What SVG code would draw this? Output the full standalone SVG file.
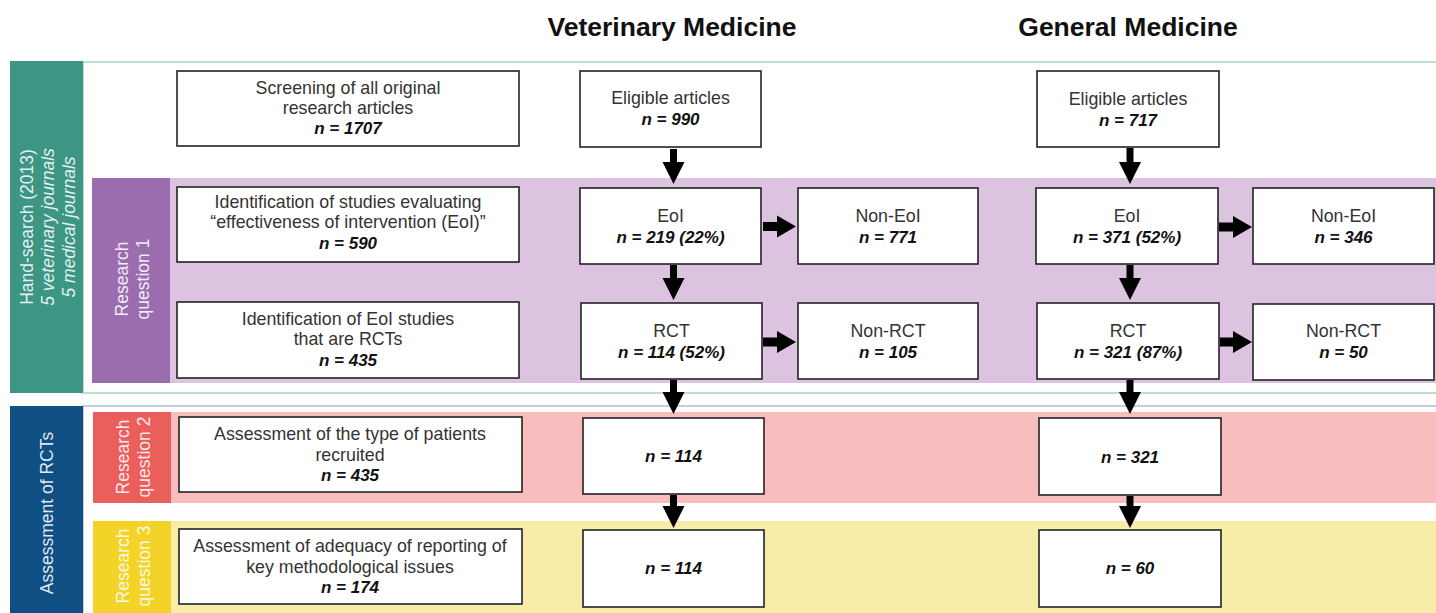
<svg xmlns="http://www.w3.org/2000/svg" width="1436" height="613" viewBox="0 0 1436 613">
<style>
.box{fill:#fff;stroke:#222;stroke-width:1.6}
.t{font-family:"Liberation Sans",Arial,sans-serif;font-size:17.8px;fill:#333;text-anchor:middle}
.n{font-family:"Liberation Sans",Arial,sans-serif;font-size:17px;font-weight:bold;font-style:italic;fill:#111;text-anchor:middle}
.title{font-family:"Liberation Sans",Arial,sans-serif;font-size:26.5px;font-weight:bold;fill:#111;text-anchor:middle}
.side{font-family:"Liberation Sans",Arial,sans-serif;font-size:17.5px;fill:#fff;fill-opacity:0.88;text-anchor:middle}
.arr{fill:#000}
</style>
<rect width="1436" height="613" fill="#fff"/>
<g id="titles">
<text class="title" x="672" y="36">Veterinary Medicine</text>
<text class="title" x="1128" y="36">General Medicine</text>
</g>
<g id="band-handsearch">
<rect x="83" y="62" width="1360" height="331" fill="none" stroke="#b9e2c7" stroke-width="2"/>
<rect x="10" y="61" width="73" height="332" fill="#3d9684"/>
<g transform="translate(0,227) rotate(-90)">
<text class="side" x="0" y="33">Hand-search (2013)</text>
<text class="side" x="0" y="54" font-style="italic">5 veterinary journals</text>
<text class="side" x="0" y="75" font-style="italic">5 medical journals</text>
</g>
</g>
<g id="band-rq1">
<rect x="170" y="178" width="1266" height="205" fill="#dcc3df"/>
<rect x="92" y="178" width="78" height="205" fill="#9b6daf"/>
<g transform="translate(0,279) rotate(-90)">
<text class="side" x="0" y="128">Research</text>
<text class="side" x="0" y="149">question 1</text>
</g>
</g>
<g id="band-assessment">
<rect x="83" y="406" width="1360" height="220" fill="none" stroke="#c3cfe0" stroke-width="2"/>
<rect x="10" y="406" width="73" height="207" fill="#0f4f84"/>
<g transform="translate(0,513) rotate(-90)">
<text class="side" x="0" y="53">Assessment of RCTs</text>
</g>
</g>
<g id="band-rq2">
<rect x="171" y="412" width="1265" height="91" fill="#f8bebd"/>
<rect x="93" y="412" width="78" height="91" fill="#ea5e5b"/>
<g transform="translate(0,457) rotate(-90)">
<text class="side" x="0" y="129">Research</text>
<text class="side" x="0" y="150">question 2</text>
</g>
</g>
<g id="band-rq3">
<rect x="171" y="521" width="1265" height="92" fill="#f8eda8"/>
<rect x="93" y="521" width="78" height="92" fill="#f3d327"/>
<g transform="translate(0,566) rotate(-90)">
<text class="side" x="0" y="129">Research</text>
<text class="side" x="0" y="150">question 3</text>
</g>
</g>
<g id="connectors">
<path class="arr" d="M670,149H677V162H684.5L673.5,184L662.5,162H670Z"/>
<path class="arr" d="M670,265H677V278H684.5L673.5,300L662.5,278H670Z"/>
<path class="arr" d="M670,380H677V392H684.5L673.5,414L662.5,392H670Z"/>
<path class="arr" d="M670,495H677V506H684.5L673.5,528L662.5,506H670Z"/>
<path class="arr" d="M1126.5,148H1133.5V162H1141L1130,184L1119,162H1126.5Z"/>
<path class="arr" d="M1126.5,265H1133.5V278H1141L1130,300L1119,278H1126.5Z"/>
<path class="arr" d="M1126.5,380H1133.5V392H1141L1130,414L1119,392H1126.5Z"/>
<path class="arr" d="M1126.5,496H1133.5V506H1141L1130,528L1119,506H1126.5Z"/>
<path class="arr" d="M763,222H777V215.5L796,226.5L777,237.5V231H763Z"/>
<path class="arr" d="M763,337.5H777V331L796,342L777,353V346.5H763Z"/>
<path class="arr" d="M1219,222.5H1233V216L1252,227L1233,238V231.5H1219Z"/>
<path class="arr" d="M1220,337.5H1233V331L1252,342L1233,353V346.5H1220Z"/>
</g>
<g id="node-screening">
<rect class="box" x="177" y="71" width="342" height="75"/>
<text class="t" x="348" y="94">Screening of all original</text>
<text class="t" x="348" y="114">research articles</text>
<text class="n" x="348" y="134">n = 1707</text>
</g>
<g id="node-eoi-ident">
<rect class="box" x="177" y="187" width="342" height="75"/>
<text class="t" x="348" y="208">Identification of studies evaluating</text>
<text class="t" x="348" y="228">“effectiveness of intervention (EoI)”</text>
<text class="n" x="348" y="249">n = 590</text>
</g>
<g id="node-rct-ident">
<rect class="box" x="177" y="302" width="342" height="76"/>
<text class="t" x="348" y="325">Identification of EoI studies</text>
<text class="t" x="348" y="345">that are RCTs</text>
<text class="n" x="348" y="366">n = 435</text>
</g>
<g id="node-patients">
<rect class="box" x="179" y="417" width="343" height="75"/>
<text class="t" x="350" y="440">Assessment of the type of patients</text>
<text class="t" x="350" y="461">recruited</text>
<text class="n" x="350" y="481">n = 435</text>
</g>
<g id="node-reporting">
<rect class="box" x="179" y="529" width="343" height="75"/>
<text class="t" x="350" y="552">Assessment of adequacy of reporting of</text>
<text class="t" x="350" y="573">key methodological issues</text>
<text class="n" x="350" y="593">n = 174</text>
</g>
<g id="node-vet-eligible">
<rect class="box" x="580" y="71" width="181" height="76"/>
<text class="t" x="670.5" y="104">Eligible articles</text>
<text class="n" x="670.5" y="125">n = 990</text>
</g>
<g id="node-vet-eoi">
<rect class="box" x="580" y="188" width="181" height="76"/>
<text class="t" x="670.5" y="222">EoI</text>
<text class="n" x="670.5" y="243">n = 219 (22%)</text>
</g>
<g id="node-vet-noneoi">
<rect class="box" x="798" y="188" width="180" height="76"/>
<text class="t" x="888" y="222">Non-EoI</text>
<text class="n" x="888" y="243">n = 771</text>
</g>
<g id="node-vet-rct">
<rect class="box" x="581" y="303" width="181" height="76"/>
<text class="t" x="671.5" y="337">RCT</text>
<text class="n" x="671.5" y="358">n = 114 (52%)</text>
</g>
<g id="node-vet-nonrct">
<rect class="box" x="798" y="303" width="180" height="76"/>
<text class="t" x="888" y="337">Non-RCT</text>
<text class="n" x="888" y="358">n = 105</text>
</g>
<g id="node-vet-rq2">
<rect class="box" x="583" y="418" width="181" height="76"/>
<text class="n" x="673.5" y="462">n = 114</text>
</g>
<g id="node-vet-rq3">
<rect class="box" x="583" y="530" width="181" height="77"/>
<text class="n" x="673.5" y="574">n = 114</text>
</g>
<g id="node-gen-eligible">
<rect class="box" x="1037" y="71" width="182" height="76"/>
<text class="t" x="1128" y="105">Eligible articles</text>
<text class="n" x="1128" y="126">n = 717</text>
</g>
<g id="node-gen-eoi">
<rect class="box" x="1036" y="188" width="182" height="76"/>
<text class="t" x="1127" y="222">EoI</text>
<text class="n" x="1127" y="243">n = 371 (52%)</text>
</g>
<g id="node-gen-noneoi">
<rect class="box" x="1253" y="188" width="181" height="76"/>
<text class="t" x="1343.5" y="222">Non-EoI</text>
<text class="n" x="1343.5" y="243">n = 346</text>
</g>
<g id="node-gen-rct">
<rect class="box" x="1037" y="303" width="182" height="76"/>
<text class="t" x="1128" y="337">RCT</text>
<text class="n" x="1128" y="358">n = 321 (87%)</text>
</g>
<g id="node-gen-nonrct">
<rect class="box" x="1253" y="304" width="181" height="76"/>
<text class="t" x="1343.5" y="337">Non-RCT</text>
<text class="n" x="1343.5" y="358">n = 50</text>
</g>
<g id="node-gen-rq2">
<rect class="box" x="1039" y="418" width="182" height="77"/>
<text class="n" x="1130" y="463">n = 321</text>
</g>
<g id="node-gen-rq3">
<rect class="box" x="1039" y="530" width="182" height="77"/>
<text class="n" x="1130" y="574">n = 60</text>
</g>
</svg>
